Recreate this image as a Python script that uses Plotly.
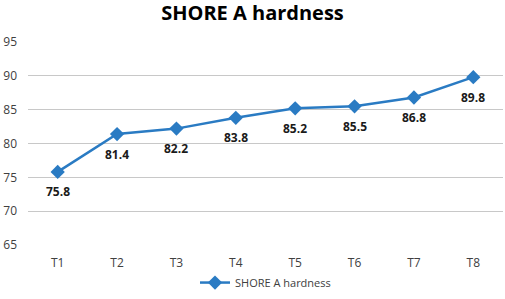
import plotly.graph_objects as go

categories = ["T1", "T2", "T3", "T4", "T5", "T6", "T7", "T8"]
hardness = [75.8, 81.4, 82.2, 83.8, 85.2, 85.5, 86.8, 89.8]
y_ticks = [65, 70, 75, 80, 85, 90, 95]
series_name = "SHORE A hardness"

color = "#2A7BC3"

fig = go.Figure()
fig.add_trace(go.Scatter(
    x=categories, y=hardness, name=series_name,
    mode="lines+markers",
    line=dict(color=color, width=2.5),
    marker=dict(symbol="diamond", size=11, color=color),
))

for c, v in zip(categories, hardness):
    fig.add_annotation(
        x=c, y=v, text=f"<b>{v:.1f}</b>", showarrow=False,
        yshift=-20, xanchor="center", yanchor="middle",
        font=dict(family="Open Sans", size=12, color="#1a1a1a"),
    )

fig.update_layout(
    width=505, height=299,
    margin=dict(l=28, r=2, t=42, b=54, autoexpand=False),
    paper_bgcolor="white", plot_bgcolor="white",
    title=dict(text="<b>SHORE A hardness</b>", x=0.5, xanchor="center",
               y=0.955, yanchor="middle",
               font=dict(family="Open Sans", size=20, color="#000000")),
    showlegend=True,
    legend=dict(orientation="h", x=0.5, xanchor="center",
                yref="container", y=0.055, yanchor="middle",
                font=dict(family="Open Sans", size=11, color="#404040"),
                itemwidth=30),
    xaxis=dict(type="category", range=[-0.5, 7.5], showgrid=False, showline=False,
               ticks="", ticklabelstandoff=9,
               tickfont=dict(family="Open Sans", size=12, color="#404040")),
    yaxis=dict(range=[65, 95], tickvals=y_ticks, showgrid=True, gridcolor="#C8C8C8",
               gridwidth=1, zeroline=False, showline=False, ticks="",
               ticklabelstandoff=10,
               tickfont=dict(family="Open Sans", size=12, color="#404040")),
)

fig.write_html(
    "out.html",
    config={"displayModeBar": False},
    post_script="document.body.style.margin='0';document.body.style.padding='0';document.body.style.overflow='hidden';",
)
